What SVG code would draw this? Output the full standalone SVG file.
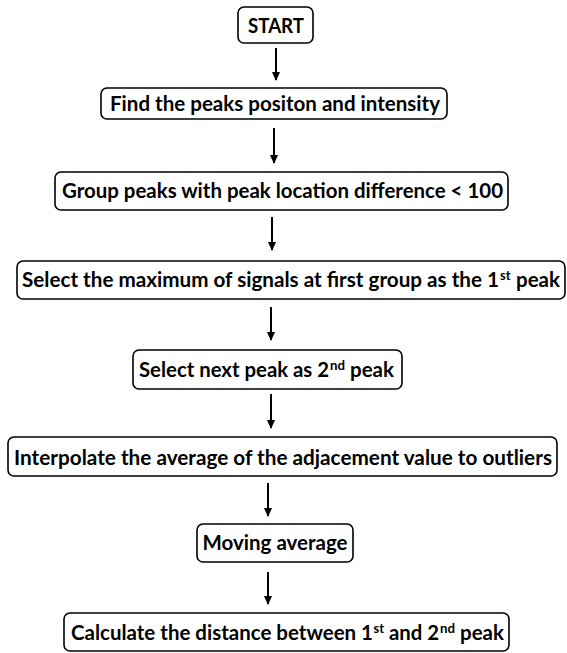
<svg xmlns="http://www.w3.org/2000/svg" width="567" height="653" viewBox="0 0 567 653">
<style>
.box{fill:#fff;stroke:#000;stroke-width:1.6}
.t{font-family:Lato,"Open Sans","Liberation Sans",sans-serif;font-weight:bold;font-size:20px;fill:#000}
.m{text-anchor:middle}
.s{text-anchor:start}
.sup{font-family:Lato,"Open Sans","Liberation Sans",sans-serif;font-weight:bold;font-size:13px;fill:#000;text-anchor:start}
.c{stroke:#000;stroke-width:2;fill:none}
</style>
<defs>
<marker id="ah" viewBox="0 0 10 10" refX="9" refY="5" markerWidth="9" markerHeight="9" markerUnits="userSpaceOnUse" orient="auto">
<path d="M0,0.5 L10,5 L0,9.5 z" fill="#000"/>
</marker>
</defs>
<rect width="567" height="653" fill="#fff"/>
<g id="connectors">
<line class="c" x1="276" y1="48" x2="276" y2="80" marker-end="url(#ah)"/>
<line class="c" x1="274" y1="128" x2="274" y2="163" marker-end="url(#ah)"/>
<line class="c" x1="272" y1="217" x2="272" y2="250" marker-end="url(#ah)"/>
<line class="c" x1="271" y1="307" x2="271" y2="340" marker-end="url(#ah)"/>
<line class="c" x1="271" y1="394" x2="271" y2="428" marker-end="url(#ah)"/>
<line class="c" x1="268" y1="483" x2="268" y2="516" marker-end="url(#ah)"/>
<line class="c" x1="268" y1="572" x2="268" y2="604" marker-end="url(#ah)"/>
</g>
<g id="start">
<rect class="box" x="238" y="7" width="75" height="36" rx="6"/>
<text class="t m" x="276" y="33" textLength="56" lengthAdjust="spacingAndGlyphs">START</text>
</g>
<g id="find">
<rect class="box" x="101" y="88" width="346" height="31" rx="6"/>
<text class="t m" x="275" y="111" textLength="330" lengthAdjust="spacingAndGlyphs">Find the peaks positon and intensity</text>
</g>
<g id="group">
<rect class="box" x="55" y="172" width="453" height="38" rx="6"/>
<text class="t m" x="282.5" y="198" textLength="441" lengthAdjust="spacingAndGlyphs">Group peaks with peak location difference &lt; 100</text>
</g>
<g id="selectmax">
<rect class="box" x="17" y="261" width="548" height="38" rx="6"/>
<text class="t s" x="22" y="287" textLength="477" lengthAdjust="spacingAndGlyphs">Select the maximum of signals at first group as the 1</text>
<text class="sup" x="500" y="280" textLength="10.5" lengthAdjust="spacingAndGlyphs">st</text>
<text class="t s" x="516" y="287" textLength="44" lengthAdjust="spacingAndGlyphs">peak</text>
</g>
<g id="selectnext">
<rect class="box" x="133" y="350" width="269" height="39" rx="6"/>
<text class="t s" x="139" y="377" textLength="190" lengthAdjust="spacingAndGlyphs">Select next peak as 2</text>
<text class="sup" x="330" y="370" textLength="15" lengthAdjust="spacingAndGlyphs">nd</text>
<text class="t s" x="350" y="377" textLength="44" lengthAdjust="spacingAndGlyphs">peak</text>
</g>
<g id="interpolate">
<rect class="box" x="8" y="437" width="549" height="39" rx="6"/>
<text class="t m" x="283" y="465" textLength="538" lengthAdjust="spacingAndGlyphs">Interpolate the average of the adjacement value to outliers</text>
</g>
<g id="moving">
<rect class="box" x="197" y="524" width="156" height="38" rx="6"/>
<text class="t m" x="275" y="550" textLength="145" lengthAdjust="spacingAndGlyphs">Moving average</text>
</g>
<g id="calculate">
<rect class="box" x="64" y="613" width="445" height="38" rx="6"/>
<text class="t s" x="71" y="640" textLength="302" lengthAdjust="spacingAndGlyphs">Calculate the distance between 1</text>
<text class="sup" x="373.5" y="633" textLength="10.5" lengthAdjust="spacingAndGlyphs">st</text>
<text class="t s" x="389" y="640" textLength="50" lengthAdjust="spacingAndGlyphs">and 2</text>
<text class="sup" x="440" y="633" textLength="15" lengthAdjust="spacingAndGlyphs">nd</text>
<text class="t s" x="460" y="640" textLength="44" lengthAdjust="spacingAndGlyphs">peak</text>
</g>
</svg>
